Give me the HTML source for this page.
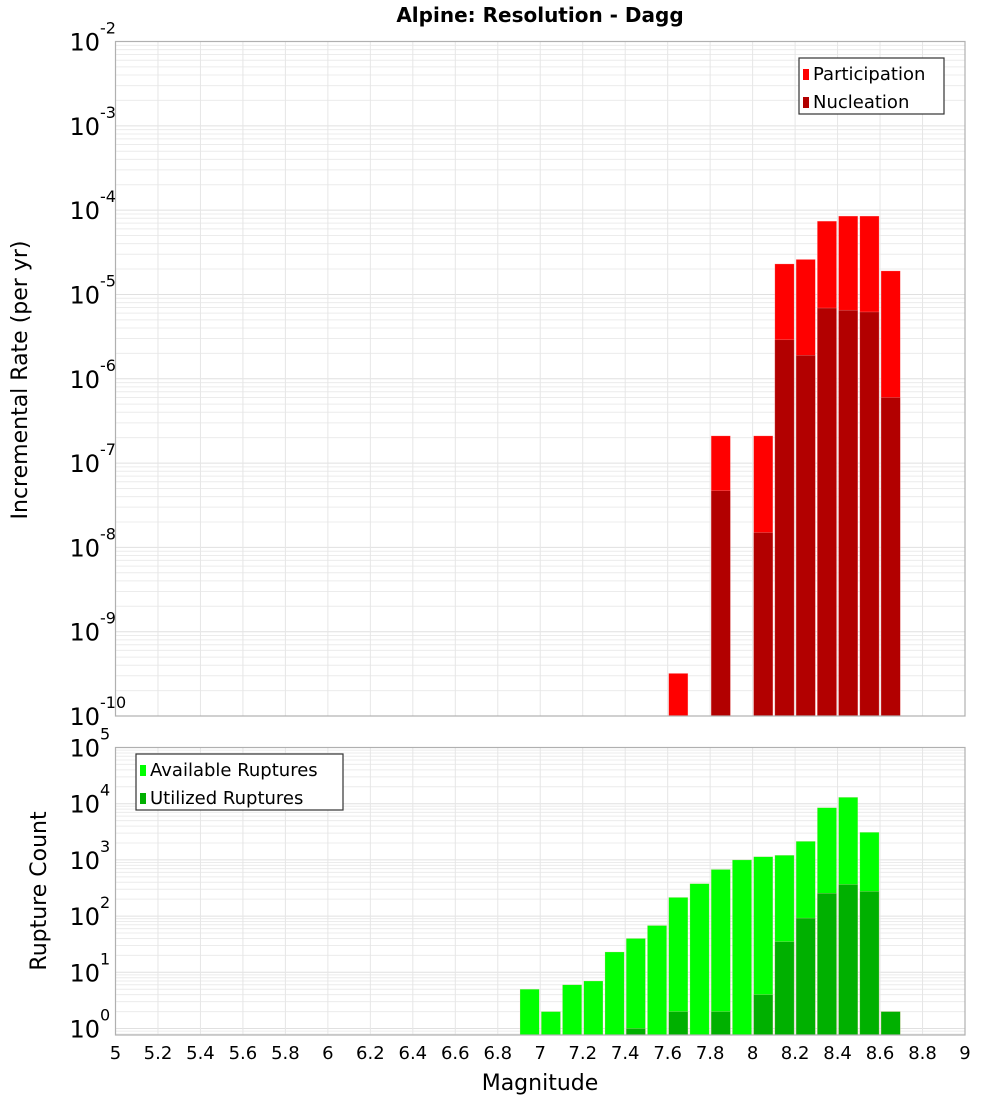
<!DOCTYPE html>
<html><head><meta charset="utf-8"><style>
body{margin:0;background:#fff}
svg text{font-family:"DejaVu Sans","Liberation Sans",sans-serif}
</style></head><body>
<svg id="c" width="1000" height="1100" xmlns="http://www.w3.org/2000/svg">
<text x="540" y="22" font-size="20" font-weight="bold" text-anchor="middle">Alpine: Resolution - Dagg</text>
<g id="top"></g>
<g id="bot"></g>
<text transform="translate(27,380) rotate(-90)" font-size="22" text-anchor="middle">Incremental Rate (per yr)</text>
<text transform="translate(46,891) rotate(-90)" font-size="22" text-anchor="middle">Rupture Count</text>
<text x="540" y="1090" font-size="22" text-anchor="middle">Magnitude</text>
</svg>
<script>
const binStarts = [6.9,7.0,7.1,7.2,7.3,7.4,7.5,7.6,7.7,7.8,7.9,8.0,8.1,8.2,8.3,8.4,8.5,8.6];
const participation = [0,0,0,0,0,0,0,3.2e-10,0,2.1e-7,0,2.1e-7,2.3e-5,2.6e-5,7.4e-5,8.5e-5,8.5e-5,1.9e-5];
const nucleation = [0,0,0,0,0,0,0,0,0,4.7e-8,0,1.5e-8,2.9e-6,1.9e-6,6.9e-6,6.5e-6,6.2e-6,6.0e-7];
const available = [5,2,6,7,23,40,68,215,378,676,1000,1140,1210,2140,8500,13000,3100,2];
const utilized = [0,0,0,0,0,1,0,2,0,2,0,4,35,92,255,365,275,2];
const xTicks = ["5","5.2","5.4","5.6","5.8","6","6.2","6.4","6.6","6.8","7","7.2","7.4","7.6","7.8","8","8.2","8.4","8.6","8.8","9"];
const topExps = [-2,-3,-4,-5,-6,-7,-8,-9,-10];
const botExps = [5,4,3,2,1,0];
const binWidth = 0.1;

const NS="http://www.w3.org/2000/svg";
const L=115.5,R=965;
const X=m=>L+(m-5)/4*(R-L);
function el(p,t,a){const e=document.createElementNS(NS,t);for(const k in a)e.setAttribute(k,a[k]);p.appendChild(e);return e;}
function panel(g,top,bot,ymax,ymin,tickTop,decade){
  const Y=v=>tickTop+(ymax-Math.log10(v))*decade;
  // grid
  for(let e=Math.floor(ymin);e<ymax;e++){for(let k=1;k<10;k++){const y=Y(k*Math.pow(10,e));if(y>bot||y<top)continue;
    const ln=el(g,'line',{x1:L,x2:R,y1:y,y2:y,stroke:k==1?'#e0e0e0':'#ececec','stroke-width':1});
    }}
  xTicks.forEach(t=>{const x=X(+t);const ln=el(g,'line',{x1:x,x2:x,y1:top,y2:bot,stroke:'#e6e6e6'});
    });
  return Y;
}
function bars(g,vals,col,Y,bot,name){
  vals.forEach((v,i)=>{if(!v)return;const x0=X(binStarts[i])+1,x1=X(binStarts[i]+binWidth)-1;const y=Math.max(Y(v),0);
    const r=el(g,'rect',{x:x0,y:y,width:x1-x0,height:bot-y,fill:col,stroke:'#ffcccc','stroke-width':0.5,'stroke-opacity':0.5});
    });
}
function frame(g,top,bot){const r=el(g,'rect',{x:L,y:top,width:R-L,height:bot-top,fill:'none',stroke:'#b0b0b0','stroke-width':1.2});
  }
function ylabels(g,exps,Y){exps.forEach(e=>{const y=Y(Math.pow(10,e));
  const t=el(g,'text',{x:100,y:y+9,'font-size':24,'text-anchor':'end'});t.textContent='10';
  
  const s=el(g,'text',{x:100,y:y-8,'font-size':16,'text-anchor':'start'});s.textContent=String(e);
  });}
function legend(g,x,y,w,items){const b=el(g,'rect',{x:x,y:y,width:w,height:56,fill:'#fff',stroke:'#333','stroke-width':1.2});
  
  items.forEach((it,i)=>{const r=el(g,'rect',{x:x+4,y:y+11+i*28,width:6,height:11,fill:it[1]});
    
    const t=el(g,'text',{x:x+14,y:y+22+i*28,'font-size':18});t.textContent=it[0];
    });}

const gt=document.getElementById('top');
const tT=41.5,tB=716;
const Yt=panel(gt,tT,tB,-2,-10,tT,(tB-tT)/8);
bars(gt,participation,'#ff0000',Yt,tB,'bar-participation');
bars(gt,nucleation,'#b20000',Yt,tB,'bar-nucleation');
frame(gt,tT,tB);ylabels(gt,topExps,Yt);
legend(gt,799,58,145,[['Participation','#ff0000'],['Nucleation','#b20000']]);

const gb=document.getElementById('bot');
const bT=747.5,bB=1035,dec=56.2;
const Yb=panel(gb,bT,bB,5,-0.13,bT,dec);
bars(gb,available,'#00ff00',Yb,bB,'bar-available');
bars(gb,utilized,'#00b000',Yb,bB,'bar-utilized');
frame(gb,bT,bB);ylabels(gb,botExps,Yb);
legend(gb,136,754,207,[['Available Ruptures','#00ff00'],['Utilized Ruptures','#00b000']]);
xTicks.forEach(t=>{const e=el(gb,'text',{x:X(+t),y:1059,'font-size':18,'text-anchor':'middle'});e.textContent=t;
  });
</script>
</body></html>
